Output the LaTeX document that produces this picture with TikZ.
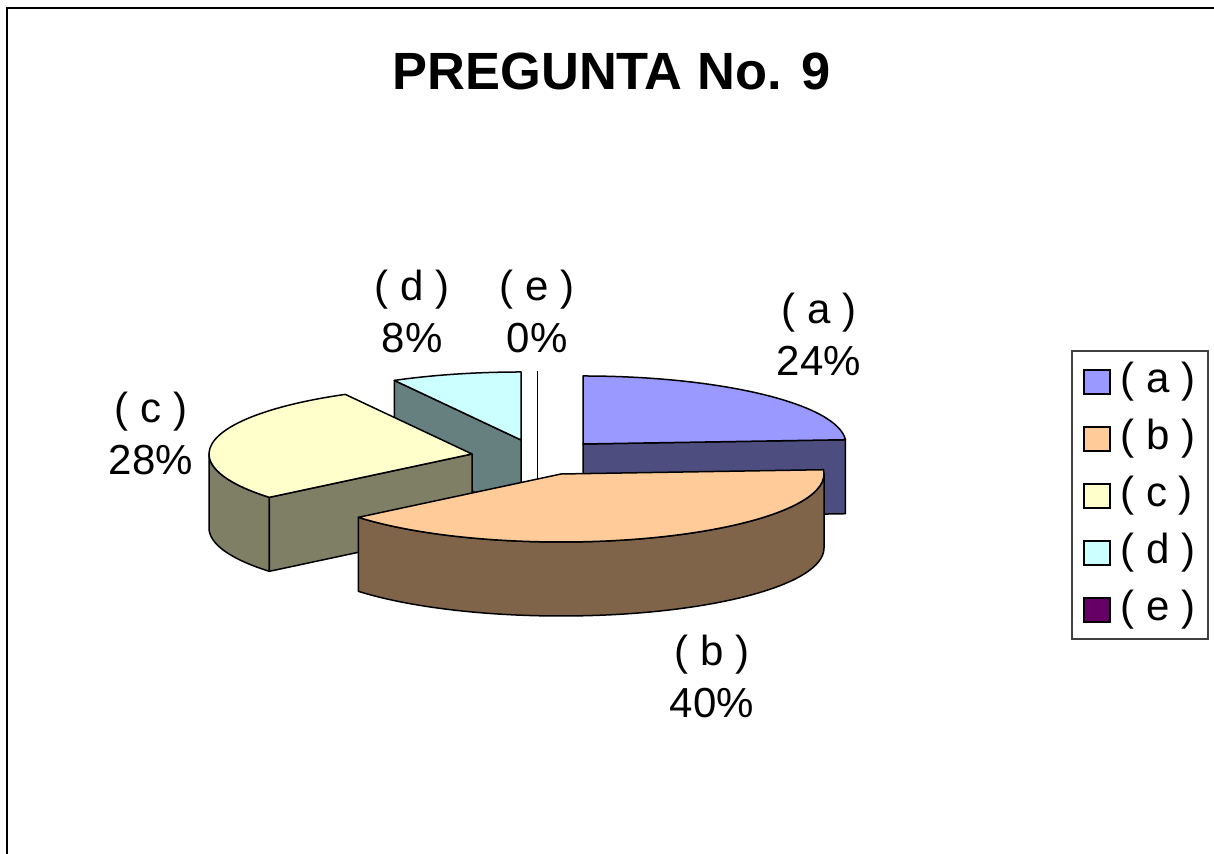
\documentclass[tikz,border=0pt]{standalone}
\usepackage{fontspec}
\setmainfont{Liberation Sans}
\usetikzlibrary{calc}

\definecolor{aoben}{HTML}{9999FF}
\definecolor{aseite}{HTML}{4D4D80}
\definecolor{boben}{HTML}{FFCC99}
\definecolor{bseite}{HTML}{7F6449}
\definecolor{coben}{HTML}{FFFFCC}
\definecolor{cseite}{HTML}{7F7F66}
\definecolor{doben}{HTML}{CCFFFF}
\definecolor{dseite}{HTML}{668080}
\definecolor{eoben}{HTML}{660066}

\begin{document}
\begin{tikzpicture}[x=0.5pt,y=0.5pt,
	kante/.style={draw=black,line width=0.75pt,line join=round},
	beschr/.style={font=\fontsize{21}{26}\selectfont,align=center,inner sep=0pt},
	feld/.style={draw=black,line width=0.6pt,minimum width=13pt,minimum height=12pt,inner sep=0pt},
	legtext/.style={font=\fontsize{21}{26}\selectfont,inner sep=0pt,anchor=west}]
		\useasboundingbox (0,0) rectangle (1214,854);
		% Rahmen
		\draw[line width=1pt] (6.5,0) -- (6.5,845.5) -- (1214,845.5);
		% Titel
		\node[font=\bfseries\fontsize{26.2}{30}\selectfont,inner sep=0pt] (titel) at (611.5,783) {PREGUNTA No. 9};
		% Mittelpunkte
		\coordinate (Ma) at (583,410);
		\coordinate (Mb) at (561,380);
		\coordinate (Mc) at (472,400);
		\coordinate (Md) at (521,414);
		\coordinate (Me) at (537.5,415);
		% Stueck d
		\filldraw[kante,fill=dseite] (Md) -- ++(118.8:263 and 68) -- ++(0,-74) -- ++(-61.2:263 and 68) -- cycle;
		\filldraw[kante,fill=doben] (Md) -- ++(90:263 and 68) arc[start angle=90,end angle=118.8,x radius=263,y radius=68] -- cycle;
		% Stueck e
		\draw[kante] (Me) ++(0,68) -- ++(0,-142);
		% Stueck a
		\filldraw[kante,fill=aseite] (Ma) -- ++(3.6:263 and 68) -- ++(0,-74) -- ++(183.6:263 and 68) -- cycle;
		\filldraw[kante,fill=aoben] (Ma) -- ++(3.6:263 and 68) arc[start angle=3.6,end angle=90,x radius=263,y radius=68] -- cycle;
		% Stueck c
		\filldraw[kante,fill=cseite] (Mc) ++(180:263 and 68) arc[start angle=180,end angle=219.6,x radius=263,y radius=68] -- ++(0,-74) arc[start angle=219.6,end angle=180,x radius=263,y radius=68] -- cycle;
		\filldraw[kante,fill=cseite] (Mc) -- ++(219.6:263 and 68) -- ++(0,-74) -- ++(39.6:263 and 68) -- cycle;
		\filldraw[kante,fill=coben] (Mc) -- ++(118.8:263 and 68) arc[start angle=118.8,end angle=219.6,x radius=263,y radius=68] -- cycle;
		% Stueck b
		\filldraw[kante,fill=bseite] (Mb) ++(-140.4:263 and 68) arc[start angle=-140.4,end angle=0,x radius=263,y radius=68] -- ++(0,-74) arc[start angle=0,end angle=-140.4,x radius=263,y radius=68] -- cycle;
		\filldraw[kante,fill=boben] (Mb) -- ++(-140.4:263 and 68) arc[start angle=-140.4,end angle=3.6,x radius=263,y radius=68] -- cycle;
		% Beschriftung
		\node[beschr] (la) at (819,520) {( a )\\24\%};
		\node[beschr] (lb) at (712,178) {( b )\\40\%};
		\node[beschr] (lc) at (151,420) {( c )\\28\%};
		\node[beschr] (ld) at (412,542) {( d )\\8\%};
		\node[beschr] (le) at (537,542) {( e )\\0\%};
		% Legende
		\node[draw=black!75,line width=0.75pt,minimum width=68pt,minimum height=144pt,inner sep=0pt] (legende) at (1140,359) {};
		\foreach \n/\farbe [count=\i from 0] in {a/aoben,b/boben,c/coben,d/doben,e/eoben}
		{
			\node[feld,fill=\farbe] (f\n) at (1097,472-57*\i) {};
			\node[legtext] (t\n) at (1120,472-57*\i) {( \n\ )};
		}
	\end{tikzpicture}
\end{document}
